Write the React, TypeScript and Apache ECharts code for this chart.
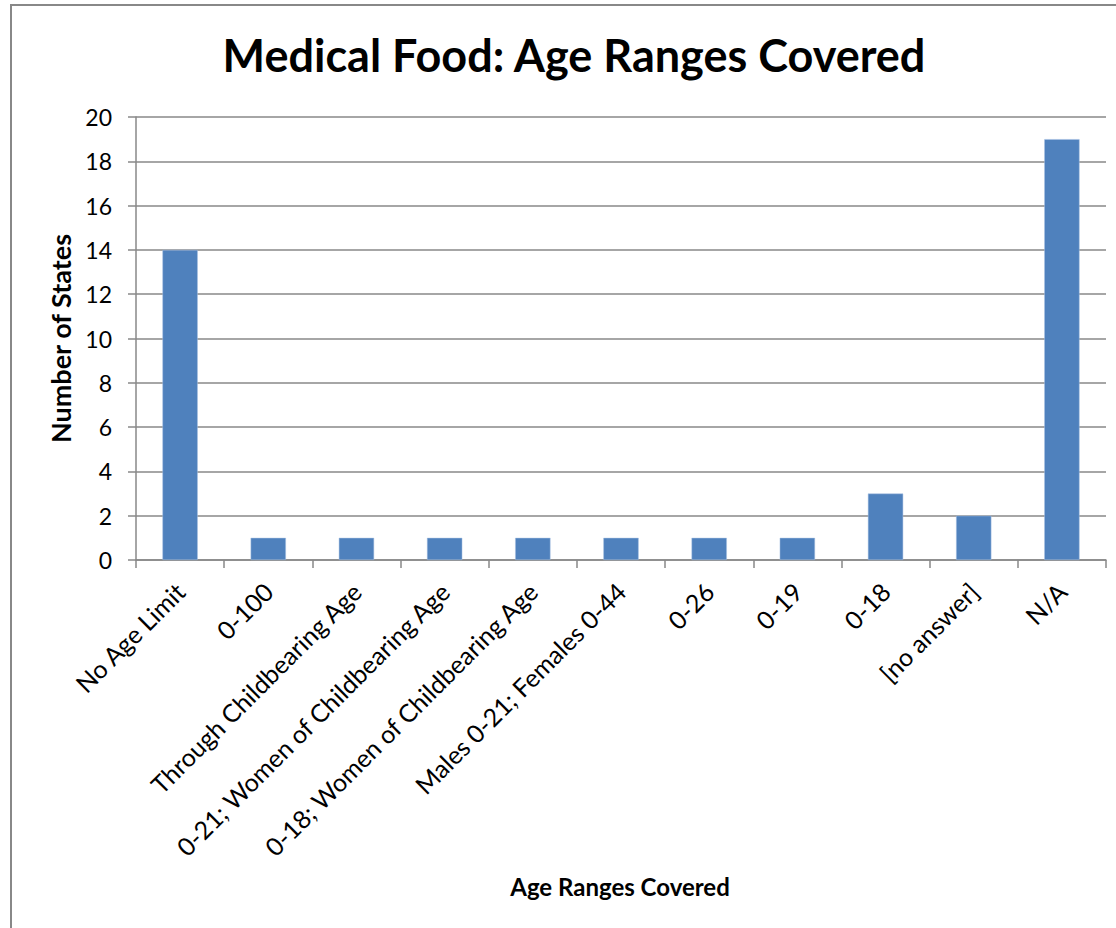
import React, { useEffect, useRef } from "react";
import * as echarts from "echarts";

const titleText = "Medical Food: Age Ranges Covered";
const xAxisTitle = "Age Ranges Covered";
const yAxisTitle = "Number of States";
const categories = [
  "No Age Limit",
  "0-100",
  "Through Childbearing Age",
  "0-21; Women of Childbearing Age",
  "0-18; Women of Childbearing Age",
  "Males 0-21; Females 0-44",
  "0-26",
  "0-19",
  "0-18",
  "[no answer]",
  "N/A",
];
const values = [14, 1, 1, 1, 1, 1, 1, 1, 3, 2, 19];

const FONT = "Lato, 'Noto Sans', sans-serif";

export default function App() {
  const ref = useRef<HTMLDivElement>(null);
  useEffect(() => {
    if (!ref.current) return;
    const chart = echarts.init(ref.current, null, { renderer: "svg" });
    chart.setOption({
      animation: false,
      backgroundColor: "#fff",
      textStyle: { fontFamily: FONT },
      graphic: [
        {
          type: "rect",
          shape: { x: 11, y: 5, width: 1200, height: 1000 },
          style: { fill: "none", stroke: "#888", lineWidth: 2 },
          silent: true,
        },
        {
          type: "text",
          x: 620,
          y: 886,
          style: {
            text: xAxisTitle,
            fontFamily: FONT,
            fontWeight: "bold",
            fontSize: 24,
            fill: "#000",
            align: "center",
            verticalAlign: "middle",
          },
        },
      ],
      title: {
        text: titleText,
        left: 569,
        top: 27,
        textAlign: "center",
        textStyle: { fontFamily: FONT, fontWeight: "bold", fontSize: 45, color: "#000" },
      },
      grid: { left: 136, right: 10, top: 117, bottom: 368, containLabel: false },
      xAxis: {
        type: "category",
        data: categories,
        axisLine: { lineStyle: { color: "#888", width: 1.5 } },
        axisTick: { show: true, length: 8, lineStyle: { color: "#888", width: 1.5 } },
        axisLabel: {
          rotate: 45,
          interval: 0,
          margin: 27,
          fontSize: 25,
          color: "#000",
          fontFamily: FONT,
        },
      },
      yAxis: {
        type: "value",
        min: 0,
        max: 20,
        interval: 2,
        name: yAxisTitle,
        nameLocation: "middle",
        nameGap: 62,
        nameTextStyle: { fontFamily: FONT, fontWeight: "bold", fontSize: 27, color: "#000" },
        axisLine: { show: true, lineStyle: { color: "#888", width: 1.5 } },
        axisTick: { show: true, length: 8, lineStyle: { color: "#888", width: 1.5 } },
        axisLabel: { margin: 24, fontSize: 23, color: "#000", fontFamily: FONT },
        splitLine: { lineStyle: { color: "#888", width: 1.5 } },
      },
      series: [
        {
          type: "bar",
          data: values,
          barWidth: "40%",
          itemStyle: { color: "#4F81BD", borderColor: "#a9c1e2", borderWidth: 0.5 },
        },
      ],
    });
    return () => chart.dispose();
  }, []);
  return (
    <div
      ref={ref}
      style={{ position: "absolute", left: 0, top: 0, width: 1116, height: 928 }}
    />
  );
}
